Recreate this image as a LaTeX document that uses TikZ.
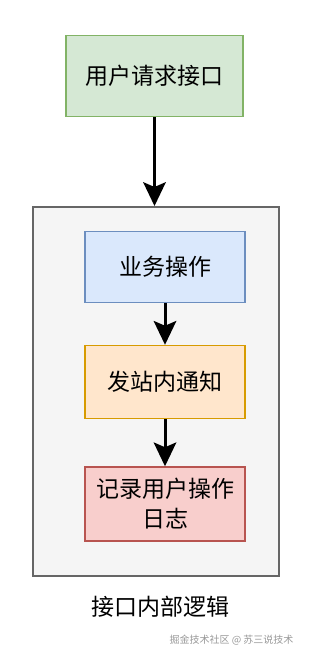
\documentclass[tikz,border=0pt]{standalone}
\usepackage{fontspec}
\setmainfont{Noto Sans CJK SC}
\usetikzlibrary{arrows.meta}
\definecolor{greenfill}{HTML}{D5E8D4}\definecolor{greenline}{HTML}{82B366}
\definecolor{bluefill}{HTML}{DAE8FC}\definecolor{blueline}{HTML}{6C8EBF}
\definecolor{orangefill}{HTML}{FFE6CC}\definecolor{orangeline}{HTML}{D79B00}
\definecolor{redfill}{HTML}{F8CECC}\definecolor{redline}{HTML}{B85450}
\definecolor{boxfill}{HTML}{F5F5F5}\definecolor{boxline}{HTML}{666666}
\tikzset{
  stepbox/.style={draw, line width=1.5pt, minimum width=160pt, minimum height=73pt,
    align=center, font=\fontsize{23}{30}\selectfont, inner sep=0pt},
  flow/.style={line width=3pt, -{Stealth[width=23pt,length=24pt,inset=5pt,line width=0pt]}}
}
\begin{document}
\begin{tikzpicture}[x=1pt, y=-1pt]
    \useasboundingbox[fill=white] (0,0) rectangle (308,656);
    % 外框：接口内部逻辑
    \node[draw=boxline, fill=boxfill, line width=2pt, minimum width=246pt, minimum height=369pt,
      inner sep=0pt] (container) at (156,391.5) {};
    \node[font=\fontsize{23}{28}\selectfont] (containerlabel) at (160,607) {接口内部逻辑};
    % 用户请求
    \node[stepbox, fill=greenfill, draw=greenline, minimum width=177pt, minimum height=81pt]
      (userreq) at (154.5,76) {用户请求接口};
    % 内部步骤
    \node[stepbox, fill=bluefill, draw=blueline, minimum height=71pt] (biz) at (165,267) {业务操作};
    \node[stepbox, fill=orangefill, draw=orangeline] (notice) at (165,382) {发站内通知};
    \node[stepbox, fill=redfill, draw=redline, minimum height=74pt] (logrec) at (165,504) {记录用户操作\\日志};
    % 连线
    \draw[flow] (userreq.south) -- (userreq.south |- container.north);
    \draw[flow] (biz) -- (notice);
    \draw[flow] (notice) -- (logrec);
    % 水印
    \node[text=gray!80, font=\fontsize{10}{12}\selectfont, anchor=east] (watermark) at (297,640)
      {掘金技术社区 @ 苏三说技术};
\end{tikzpicture}
\end{document}
